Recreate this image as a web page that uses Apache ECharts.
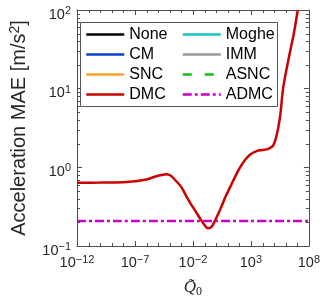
<!DOCTYPE html>
<html><head><meta charset="utf-8">
<script src="https://cdn.jsdelivr.net/npm/echarts@6/dist/echarts.min.js"></script>
<style>html,body{margin:0;padding:0;background:#fff}#c{width:323px;height:303px}</style>
</head><body><div id="c"></div>
<script>
// ---- data ----
const xMin = 1e-12, xMax = 1e8;
const yMin = 0.1, yMax = 100;
const xMinorTicks = [1e-11,1e-10,1e-9,1e-8,1e-6,1e-5,1e-4,1e-3,1e-1,1e0,1e1,1e2,1e4,1e5,1e6,1e7];
const yMinorTicks = [0.2,0.3,0.4,0.5,0.6,0.7,0.8,0.9,2,3,4,5,6,7,8,9,20,30,40,50,60,70,80,90];
const legendCol1 = ['None','CM','SNC','DMC'];
const legendCol2 = ['Moghe','IMM','ASNC','ADMC'];
const dmcX = [1e-12,1e-10,1e-8,1e-7,1e-6,5e-6,2e-5,5e-5,1.26e-4,3.2e-4,1e-3,3.2e-3,6.3e-3,1.6e-2,4e-2,0.1,0.2,0.4,0.8,1.6,3.2,6.3,16,40,100,320,1e3,3.2e3,1e4,3.2e4,8e4,1.6e5,3.2e5,6.3e5,2e6,5e6,1.1e7];
const dmcY = [0.638,0.64,0.648,0.665,0.70,0.76,0.80,0.815,0.78,0.68,0.56,0.41,0.345,0.28,0.225,0.185,0.168,0.175,0.21,0.26,0.33,0.42,0.56,0.74,0.96,1.25,1.48,1.61,1.66,1.72,1.88,2.5,4.3,10.6,26,50,100];
const admcX = [1e-12, 1e8];
const admcY = [0.208, 0.208];
const noneData = [], cmData = [], sncData = [], mogheData = [], immData = [], asncData = [];

// ---- styles ----
const axisColor = '#4d4d4d';
const labelColor = '#262626';
const sans = "'Liberation Sans', Arial, sans-serif";
const serif = "'Liberation Serif', 'Times New Roman', serif";

const chart = echarts.init(document.getElementById('c'), null, {renderer: 'canvas'});

function powLabel(v) {
  const e = Math.round(Math.log10(v));
  return '{b|10}{s|' + (e < 0 ? '\u2212' + (-e) : e) + '}';
}
const tickRich = {
  b: {fontSize: 14.5, fontFamily: sans, color: labelColor, lineHeight: 14, padding: [4, 0, 0, 0]},
  s: {fontSize: 11, fontFamily: sans, color: labelColor, lineHeight: 11, verticalAlign: 'top'}
};

function lineSeries(name, data, color, type) {
  return {
    name: name, type: 'line', data: data, symbol: 'none', showSymbol: false,
    xAxisIndex: 0, yAxisIndex: 0, animation: false, smooth: 0.35,
    lineStyle: {color: color, width: 2.5, type: type || 'solid'},
    itemStyle: {color: color}
  };
}
const zip = (xs, ys) => xs.map((x, i) => [x, ys[i]]);

const minorX = {
  type: 'custom', xAxisIndex: 0, yAxisIndex: 0, silent: true, z: 6,
  data: xMinorTicks.map(v => [v, 1]),
  renderItem: function (params, api) {
    const x = Math.round(api.coord([api.value(0), 1])[0]) + 0.5;
    const cs = params.coordSys;
    const top = cs.y, bottom = cs.y + cs.height;
    const st = {stroke: axisColor, lineWidth: 1};
    return {type: 'group', children: [
      {type: 'line', shape: {x1: x, y1: bottom, x2: x, y2: bottom - 3}, style: st},
      {type: 'line', shape: {x1: x, y1: top, x2: x, y2: top + 3}, style: st}
    ]};
  }
};
const minorY = {
  type: 'custom', xAxisIndex: 0, yAxisIndex: 0, silent: true, z: 6,
  data: yMinorTicks.map(v => [1, v]),
  renderItem: function (params, api) {
    const y = Math.round(api.coord([1, api.value(1)])[1]) + 0.5;
    const cs = params.coordSys;
    const left = cs.x, right = cs.x + cs.width;
    const st = {stroke: axisColor, lineWidth: 1};
    return {type: 'group', children: [
      {type: 'line', shape: {x1: left, y1: y, x2: left + 3, y2: y}, style: st},
      {type: 'line', shape: {x1: right, y1: y, x2: right - 3, y2: y}, style: st}
    ]};
  }
};

const baseAxis = {
  axisLine: {show: true, onZero: false, lineStyle: {color: axisColor, width: 1}},
  axisTick: {show: true, inside: true, length: 5, lineStyle: {color: axisColor}},
  splitLine: {show: false}
};

const legendText = {fontSize: 16, fontFamily: sans, color: '#000', lineHeight: 20};
const legendBase = {orient: 'vertical', top: 24.5, itemWidth: 38, itemHeight: 20,
  itemGap: 0, padding: 0, selectedMode: false, textStyle: legendText, z: 5,
  itemStyle: {opacity: 0, borderWidth: 0}, lineStyle: {width: 2.5}};
const option = {
  animation: false,
  backgroundColor: '#fff',
  grid: {left: 69, right: 13, top: 10, bottom: 57, containLabel: false},
  graphic: [{
    type: 'rect', left: 80, top: 22, z: 3,
    shape: {width: 197, height: 84},
    style: {fill: '#fff', stroke: '#555', lineWidth: 1}
  }],
  legend: [
    Object.assign({}, legendBase, {data: legendCol1, left: 85}),
    Object.assign({}, legendBase, {data: legendCol2, left: 181.5})
  ],
  xAxis: [
    Object.assign({}, baseAxis, {
      type: 'log', logBase: 10, min: xMin, max: xMax, interval: 5, position: 'bottom',
      axisLabel: {formatter: powLabel, rich: tickRich, margin: 8, showMinLabel: true, showMaxLabel: true},
      name: '{q|Q\u0303}{s|0}', nameLocation: 'middle', nameGap: 32,
      nameTextStyle: {rich: {
        q: {fontFamily: serif, fontStyle: 'italic', fontSize: 17, color: labelColor, lineHeight: 20},
        s: {fontFamily: serif, fontSize: 12, color: labelColor, lineHeight: 16, verticalAlign: 'bottom'}
      }}
    }),
    Object.assign({}, baseAxis, {
      type: 'log', logBase: 10, min: xMin, max: xMax, interval: 5, position: 'top',
      axisLabel: {show: false}
    })
  ],
  yAxis: [
    Object.assign({}, baseAxis, {
      type: 'log', logBase: 10, min: yMin, max: yMax, interval: 1, position: 'left',
      axisLabel: {formatter: powLabel, rich: tickRich, margin: 6, padding: [5, 0, 0, 0], showMinLabel: true, showMaxLabel: true},
      name: '{t|Acceleration MAE [m/s}{s|2}{t|]}', nameLocation: 'middle', nameGap: 46,
      nameTextStyle: {rich: {
        t: {fontFamily: sans, fontSize: 20, color: labelColor, lineHeight: 23},
        s: {fontFamily: sans, fontSize: 14, color: labelColor, lineHeight: 14, verticalAlign: 'top'}
      }}
    }),
    Object.assign({}, baseAxis, {
      type: 'log', logBase: 10, min: yMin, max: yMax, interval: 1, position: 'right',
      axisLabel: {show: false}
    })
  ],
  series: [
    lineSeries('None', noneData, '#000000'),
    lineSeries('CM', cmData, '#0a3fd0'),
    lineSeries('SNC', sncData, '#f2a72a'),
    lineSeries('DMC', zip(dmcX, dmcY), '#cc0000'),
    lineSeries('Moghe', mogheData, '#14c4c4'),
    lineSeries('IMM', immData, '#999999'),
    lineSeries('ASNC', asncData, '#10c010', [9, 13]),
    lineSeries('ADMC', zip(admcX, admcY), '#cc00cc', [9, 3, 3, 3]),
    minorX, minorY
  ]
};
chart.setOption(option);
</script></body></html>
